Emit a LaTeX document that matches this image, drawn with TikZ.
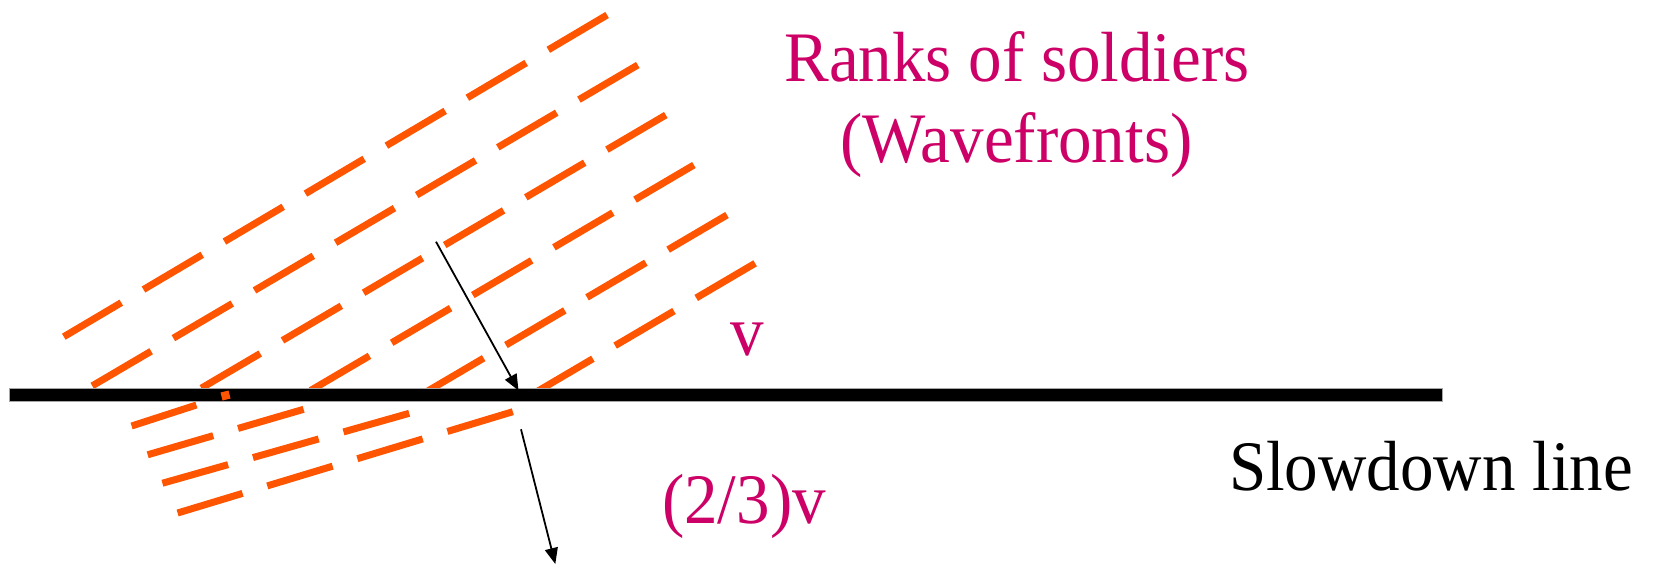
\documentclass[tikz,border=0pt]{standalone}
\usepackage{fontspec}
\setmainfont{Liberation Serif}
\usetikzlibrary{arrows.meta}
\definecolor{rankmag}{RGB}{204,0,102}
\definecolor{rankorange}{RGB}{255,85,0}
\begin{document}
\begin{tikzpicture}[x=1pt,y=-1pt,
  front/.style={draw=rankorange, line width=7pt, dash pattern=on 68.3pt off 25.8pt},
  txt/.style={inner sep=0pt, anchor=base, font=\fontsize{67}{80}\selectfont},
  ray/.style={draw=black, line width=1.8pt, -{Triangle[length=16pt,width=13pt]}}]
\useasboundingbox (0,0) rectangle (1656,565);
\fill[white] (0,0) rectangle (1656,565);
% upper wavefronts (ranks before the slowdown line)
\draw[front] (607.1,15) -- (63.8,336.7);
\draw[front] (637.8,65) -- (81.8,392);
\draw[front] (665.8,115) -- (194.8,392);
\draw[front] (693.9,165) -- (308,392);
\draw[front] (727,215) -- (426.1,392);
\draw[front] (755.1,263.3) -- (536.3,392);
% lower wavefronts (after the slowdown line)
\draw[front] (512.8,411.7) -- (177.6,513);
\draw[front] (409.2,413.3) -- (162.2,483.3);
\draw[front] (303.6,409.3) -- (146.9,455);
\draw[front] (196.4,405) -- (131.6,426);
% slowdown line
\filldraw[fill=black, draw=black!35, line width=1pt] (9.5,388.5) rectangle (1442,401.5);
\fill[rankorange] (220.5,392.5) -- (228.5,390.5) -- (230.5,398.5) -- (222.5,400.5) -- cycle;
% velocity arrows
\coordinate (inS) at (436,241.7);
\coordinate (inE) at (518.5,390.5);
\draw[ray] (inS) -- (inE);
\coordinate (outS) at (521,429.3);
\coordinate (outE) at (555.3,564);
\draw[ray] (outS) -- (outE);
% labels
\node[txt, text=rankmag] (ranks) at (1017,81) {\scalebox{1}[1.06]{Ranks of soldiers}};
\node[txt, text=rankmag] (wave) at (1016.5,162) {\scalebox{1}[1.06]{(Wavefronts)}};
\node[txt, text=rankmag] (vfast) at (747,355) {\scalebox{1}[1.06]{v}};
\node[txt, text=rankmag] (vslow) at (744,523.3) {\scalebox{1}[1.06]{(2/3)v}};
\node[txt] (slow) at (1431,490.7) {\scalebox{1}[1.06]{Slowdown line}};
\end{tikzpicture}
\end{document}
